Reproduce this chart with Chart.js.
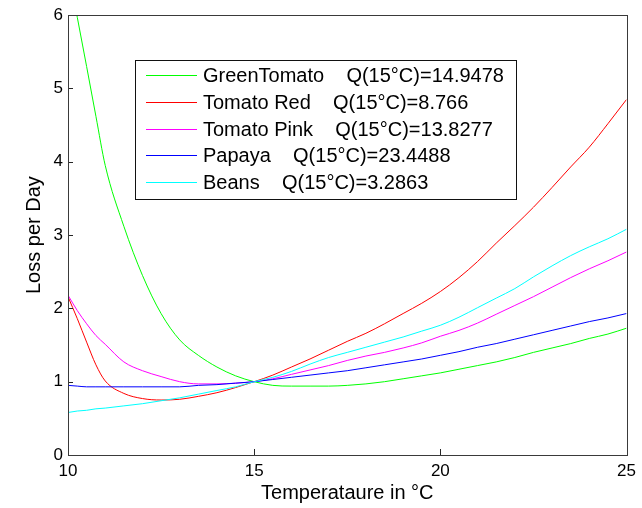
<!DOCTYPE html>
<html>
<head>
<meta charset="utf-8">
<script src="https://cdn.jsdelivr.net/npm/chart.js@4"></script>
<style>
  html, body { margin: 0; padding: 0; background: #fff; }
  #wrap { width: 642px; height: 508px; }
</style>
</head>
<body>
<div id="wrap"><canvas id="myChart" width="642" height="508"></canvas></div>
<script>
// --- data ---
const temps = [10, 10.25, 10.5, 10.75, 11, 11.5, 12, 12.5, 13, 13.5, 14, 14.5, 15, 15.5, 16, 16.5,
  17, 17.5, 18, 18.5, 19, 19.5, 20, 20.5, 21, 21.5, 22, 22.5, 23, 23.5, 24, 24.5, 25];

const greenTomato = [6.65, 5.97, 5.3, 4.62, 3.95, 3.12, 2.45, 1.93, 1.57, 1.36, 1.2, 1.08, 1.0, 0.95, 0.94, 0.94,
  0.94, 0.95, 0.97, 1.0, 1.04, 1.08, 1.12, 1.17, 1.22, 1.27, 1.33, 1.4, 1.46, 1.52, 1.59, 1.65, 1.73];
const tomatoRed = [2.16, 1.86, 1.54, 1.23, 1.01, 0.84, 0.77, 0.75, 0.76, 0.8, 0.85, 0.92, 1.0, 1.09, 1.2, 1.31,
  1.43, 1.55, 1.66, 1.79, 1.93, 2.07, 2.23, 2.42, 2.64, 2.89, 3.13, 3.38, 3.65, 3.93, 4.2, 4.52, 4.85];
const tomatoPink = [2.18, 1.97, 1.79, 1.63, 1.51, 1.27, 1.15, 1.07, 1.0, 0.97, 0.97, 0.98, 1.0, 1.04, 1.1, 1.16,
  1.22, 1.29, 1.35, 1.4, 1.46, 1.53, 1.62, 1.7, 1.8, 1.92, 2.04, 2.16, 2.29, 2.42, 2.54, 2.65, 2.77];
const papaya = [0.95, 0.94, 0.93, 0.93, 0.93, 0.93, 0.93, 0.93, 0.93, 0.95, 0.96, 0.98, 1.0, 1.03, 1.06, 1.09,
  1.12, 1.15, 1.19, 1.23, 1.27, 1.31, 1.36, 1.41, 1.47, 1.52, 1.58, 1.64, 1.7, 1.76, 1.82, 1.87, 1.93];
const beans = [0.58, 0.6, 0.61, 0.63, 0.64, 0.67, 0.7, 0.74, 0.78, 0.83, 0.88, 0.93, 1.0, 1.06, 1.14, 1.24,
  1.33, 1.4, 1.47, 1.54, 1.61, 1.69, 1.77, 1.88, 2.01, 2.14, 2.27, 2.43, 2.58, 2.72, 2.84, 2.95, 3.08];

const seriesNames = ['GreenTomato', 'Tomato Red', 'Tomato Pink', 'Papaya', 'Beans'];
const q15Values = ['14.9478', '8.766', '13.8277', '23.4488', '3.2863'];
const seriesColors = ['#00ff00', '#ff0000', '#ff00ff', '#0000ff', '#00ffff'];
const xTicks = [10, 15, 20, 25];
const yTicks = [0, 1, 2, 3, 4, 5, 6];

const FONT = "'Liberation Sans', Arial, Helvetica, sans-serif";

// frame, inward ticks and the boxed legend (MATLAB look)
const matlabAxes = {
  id: 'matlabAxes',
  afterDatasetsDraw(chart) {
    const ctx = chart.ctx;
    const a = chart.chartArea;
    const xs = chart.scales.x, ys = chart.scales.y;
    ctx.save();

    ctx.strokeStyle = '#262626';
    ctx.lineWidth = 1;
    ctx.beginPath();
    xTicks.forEach(v => {
      const px = Math.round(xs.getPixelForValue(v)) + 0.5;
      ctx.moveTo(px, a.bottom);
      ctx.lineTo(px, a.bottom - 6);
    });
    yTicks.forEach(v => {
      const py = Math.round(ys.getPixelForValue(v)) + 0.5;
      ctx.moveTo(a.left, py);
      ctx.lineTo(a.left + 5, py);
    });
    ctx.stroke();

    ctx.strokeStyle = '#3a3a3a';
    ctx.strokeRect(Math.round(a.left) + 0.5, Math.round(a.top) + 0.5,
      Math.round(a.right - a.left), Math.round(a.bottom - a.top));

    // legend box
    const bx = 135, by = 60, bw = 381, bh = 139;
    ctx.fillStyle = '#fff';
    ctx.fillRect(bx, by, bw, bh);
    ctx.strokeStyle = '#111';
    ctx.strokeRect(bx + 0.5, by + 0.5, bw, bh);

    ctx.font = '20px ' + FONT;
    ctx.textBaseline = 'middle';
    ctx.textAlign = 'left';
    seriesNames.forEach((name, i) => {
      const y = Math.round(75 + i * 26.8) + 0.5;
      ctx.strokeStyle = seriesColors[i];
      ctx.beginPath();
      ctx.moveTo(146, y);
      ctx.lineTo(197, y);
      ctx.stroke();
      ctx.fillStyle = '#000';
      ctx.fillText(name + '    Q(15°C)=' + q15Values[i], 203, y + 1);
    });
    ctx.restore();
  }
};

const seriesData = [greenTomato, tomatoRed, tomatoPink, papaya, beans];

const datasets = seriesData.map((vals, i) => ({
  label: seriesNames[i],
  data: temps.map((t, j) => ({ x: t, y: vals[j] })),
  borderColor: seriesColors[i],
  borderWidth: 1,
  pointRadius: 0,
  fill: false,
  cubicInterpolationMode: 'monotone',
  order: seriesNames.length - i
}));

new Chart(document.getElementById('myChart'), {
  type: 'line',
  data: { datasets },
  options: {
    responsive: false,
    animation: false,
    devicePixelRatio: 1,
    layout: { padding: { left: 0, right: 14, top: 15, bottom: 0 } },
    plugins: {
      legend: { display: false },
      tooltip: { enabled: false }
    },
    scales: {
      x: {
        type: 'linear',
        min: 10,
        max: 25,
        afterBuildTicks: s => { s.ticks = xTicks.map(v => ({ value: v })); },
        afterFit: s => { s.height = 53; },
        grid: { display: false, drawTicks: false },
        border: { display: false },
        ticks: { color: '#000', padding: 6, maxRotation: 0, font: { family: FONT, size: 17 } },
        title: {
          display: true,
          text: 'Temperataure in °C',
          color: '#000',
          font: { family: FONT, size: 20 },
          padding: { top: 0, bottom: 3 }
        }
      },
      y: {
        min: 0,
        max: 6,
        afterBuildTicks: s => { s.ticks = yTicks.map(v => ({ value: v })); },
        afterFit: s => { s.width = 68; },
        grid: { display: false, drawTicks: false },
        border: { display: false },
        ticks: { color: '#000', padding: 5, font: { family: FONT, size: 17 } },
        title: {
          display: true,
          text: 'Loss per Day',
          color: '#000',
          font: { family: FONT, size: 20 },
          padding: { top: 22, bottom: 0 }
        }
      }
    }
  },
  plugins: [matlabAxes]
});
</script>
</body>
</html>
